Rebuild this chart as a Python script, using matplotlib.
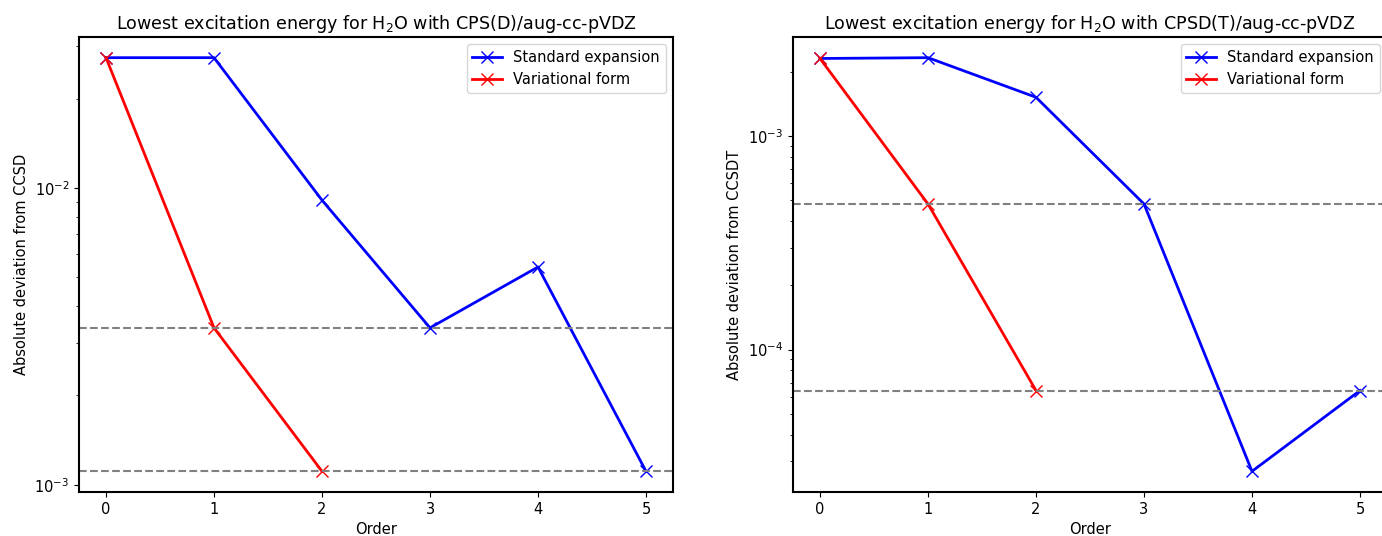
import matplotlib
matplotlib.use("Agg")
import matplotlib.pyplot as plt

STANDARD_COLOR = "blue"
VARIATIONAL_COLOR = "red"
REFERENCE_COLOR = "gray"

plt.rcParams["font.size"] = 10.5
plt.rcParams["axes.titlesize"] = 12.6

# CPS(D) vs CCSD
orders_d = [0, 1, 2, 3, 4, 5]
standard_d = [0.0275, 0.0275, 0.0091, 0.00338, 0.00542, 0.00111]
variational_d = [0.0275, 0.00338, 0.00111]
reference_d = [0.00338, 0.00111]

# CPSD(T) vs CCSDT
orders_t = [0, 1, 2, 3, 4, 5]
standard_t = [0.00231, 0.00233, 0.00152, 0.000481, 2.69e-5, 6.43e-5]
variational_t = [0.00231, 0.000481, 6.43e-5]
reference_t = [0.000481, 6.43e-5]


def draw_panel(ax, orders, standard, variational, reference, title, ylabel):
    ax.plot(orders, standard, marker="x", markersize=8, linewidth=2,
            color=STANDARD_COLOR, label="Standard expansion")
    ax.plot(orders[:len(variational)], variational, marker="x", markersize=8,
            linewidth=2, color=VARIATIONAL_COLOR, label="Variational form")
    for r in reference:
        ax.axhline(r, color=REFERENCE_COLOR, linestyle="--", linewidth=1.5)
    ax.set_yscale("log")
    ax.set_xticks(orders)
    ax.set_title(title)
    ax.set_xlabel("Order")
    ax.set_ylabel(ylabel)
    ax.legend(loc="upper right")
    for s in ax.spines.values():
        s.set_linewidth(1.5)


fig = plt.figure(figsize=(13.82, 5.36), dpi=100)
ax1 = fig.add_axes([79 / 1382, 44 / 536, 594 / 1382, 455 / 536])
ax2 = fig.add_axes([793 / 1382, 44 / 536, 594 / 1382, 455 / 536])

draw_panel(ax1, orders_d, standard_d, variational_d, reference_d,
           "Lowest excitation energy for H$_2$O with CPS(D)/aug-cc-pVDZ",
           "Absolute deviation from CCSD")
draw_panel(ax2, orders_t, standard_t, variational_t, reference_t,
           "Lowest excitation energy for H$_2$O with CPSD(T)/aug-cc-pVDZ",
           "Absolute deviation from CCSDT")

fig.savefig("out.png", dpi=100)
